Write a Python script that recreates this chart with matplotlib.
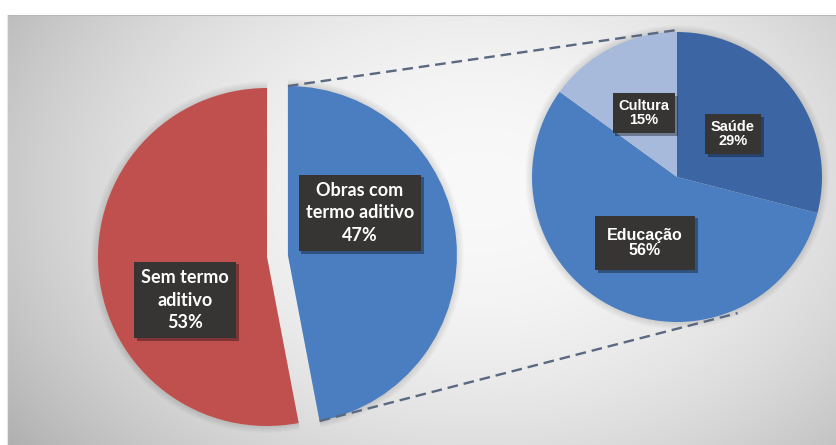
import numpy as np
import matplotlib
matplotlib.use("Agg")
import matplotlib.pyplot as plt
import matplotlib.patheffects as pe
from matplotlib.patches import Wedge

# ---- data ----
main_labels = ["Obras com\ntermo aditivo", "Sem termo\naditivo"]
main_values = [47, 53]
main_colors = ["#4A7EC0", "#C0504D"]

sub_labels = ["Saúde", "Educação", "Cultura"]
sub_values = [29, 56, 15]
sub_colors = ["#3C66A3", "#4A7EC0", "#A8BADC"]

W, H = 837, 445
fig = plt.figure(figsize=(W / 100, H / 100), dpi=100)
ax = fig.add_axes([0, 0, 1, 1])

def Y(py):
    return H - py

# ---- background (radial gradient panel) ----
x0, x1, y0, y1 = 7, W, 15, H
xs = np.linspace(x0, x1, 400)
ys = np.linspace(y0, y1, 220)
XX, YY = np.meshgrid(xs, ys)
d2 = ((XX - 480) / 440) ** 2 + ((YY - 190) / 320) ** 2
val = np.clip(0.975 - 0.16 * d2, 0, 1)
img = np.dstack([val, val, val])
ax.imshow(img, extent=[x0, x1, Y(y1), Y(y0)], origin="upper", aspect="auto", zorder=0)
ax.plot([x0, x1], [Y(y0), Y(y0)], color="#b8b8b8", lw=0.8, zorder=1)
ax.plot([x0, x0], [Y(y0), Y(y1)], color="#e8e8e8", lw=0.8, zorder=1)

# ---- main pie ----
c_main = (267, Y(257))
r_main = 169
expl = 21
wedges, _ = ax.pie(main_values, colors=main_colors, startangle=90, counterclock=False,
                   center=c_main, radius=r_main, explode=[expl, 0],
                   wedgeprops=dict(linewidth=0, zorder=3), frame=True)

# ---- sub pie ----
c_sub = (677, Y(177))
r_sub = 145
sub_wedges, _ = ax.pie(sub_values, colors=sub_colors, startangle=90, counterclock=False,
                       center=c_sub, radius=r_sub, wedgeprops=dict(linewidth=0, zorder=3),
                       frame=True)

# soft shadows around the pies
for w in list(wedges) + list(sub_wedges):
    for k in range(1, 8):
        ax.add_patch(Wedge(w.center, w.r + k, w.theta1, w.theta2, fc="black",
                           alpha=0.016, lw=0, zorder=2))

ax.set_xlim(0, W)
ax.set_ylim(0, H)
ax.set_aspect("auto")
ax.axis("off")

# ---- connector lines ----
bw = wedges[0]
bc = np.array(bw.center)
a1, a2 = np.deg2rad(bw.theta1), np.deg2rad(bw.theta2)
p_top = bc + r_main * np.array([np.cos(a2), np.sin(a2)])
p_bot = bc + r_main * np.array([np.cos(a1), np.sin(a1)])
q_top = np.array(c_sub) + r_sub * np.array([0, 1]) + np.array([0, 2])
ang = np.deg2rad(-66)
q_bot = np.array(c_sub) + (r_sub + 4) * np.array([np.cos(ang), np.sin(ang)])
for p, q in [(p_top, q_top), (p_bot, q_bot)]:
    ax.plot([p[0], q[0]], [p[1], q[1]], color="#5A6980", lw=1.7,
            dashes=(4.5, 2.5), zorder=5, solid_capstyle="butt")

# ---- labels ----
shadow = [pe.withSimplePatchShadow(offset=(2, -2), shadow_rgbFace="black", alpha=0.35)]

def label(x, y, s, family, size, pad, ls):
    t = ax.text(x, Y(y), s, ha="center", va="center", color="white",
                fontsize=size, fontweight="bold", family=family, linespacing=ls,
                bbox=dict(boxstyle=f"square,pad={pad}", fc="#363534", ec="none"),
                zorder=10)
    t.get_bbox_patch().set_path_effects(shadow)
    return t

label(360, 213, f"{main_labels[0]}\n{main_values[0]}%", "Lato", 13, 0.4, 1.4)
label(185, 300, f"{main_labels[1]}\n{main_values[1]}%", "Lato", 13, 0.4, 1.4)

label(733, 134, f"{sub_labels[0]}\n{sub_values[0]}%", "Liberation Sans", 10.5, 0.4, 1.05)
label(645, 243, f"{sub_labels[1]}\n{sub_values[1]}%", "Liberation Sans", 11.5, 0.75, 1.05)
label(644, 113, f"{sub_labels[2]}\n{sub_values[2]}%", "Liberation Sans", 10.5, 0.4, 1.05)

fig.savefig("out.png", dpi=100)
